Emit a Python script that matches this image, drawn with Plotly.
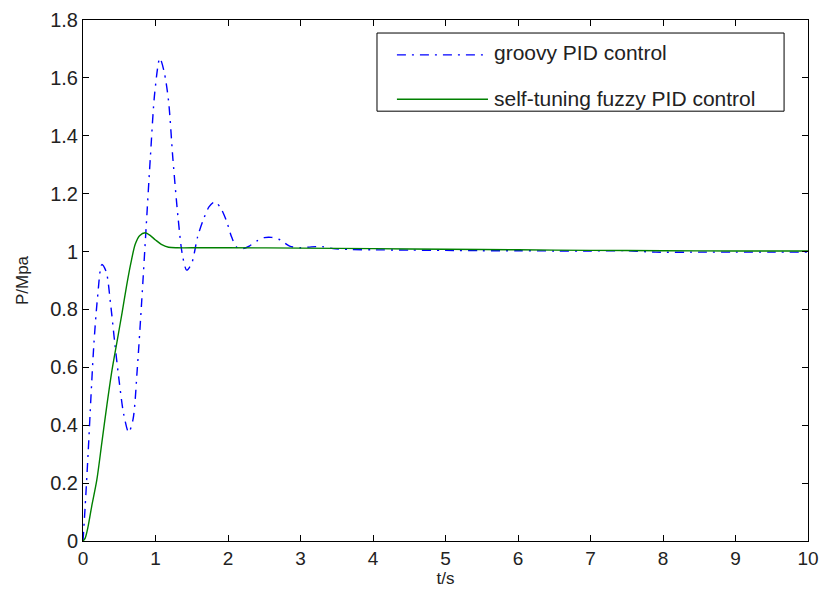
import plotly.graph_objects as go

# ---- data ----
t_groovy = [0, 0.03, 0.07, 0.11, 0.15, 0.2, 0.26, 0.32, 0.38, 0.44, 0.5, 0.56, 0.63, 0.69, 0.75,
            0.81, 0.87, 0.93, 0.99, 1.06, 1.12, 1.18, 1.24, 1.31, 1.37, 1.43, 1.5, 1.58, 1.66,
            1.74, 1.82, 1.9, 1.98, 2.05, 2.12, 2.2, 2.3, 2.4, 2.5, 2.6, 2.72, 2.85, 3.0, 3.15,
            3.3, 3.45, 3.7, 4.0, 4.5, 5.0, 5.5, 6.0, 6.5, 7.0, 7.5, 7.9, 8.5, 9.0, 9.5, 10.0]
p_groovy = [0, 0.12, 0.3, 0.5, 0.68, 0.84, 0.955, 0.93, 0.82, 0.68, 0.55, 0.44, 0.375, 0.42, 0.6,
            0.83, 1.08, 1.33, 1.55, 1.668, 1.62, 1.52, 1.32, 1.12, 0.99, 0.936, 0.96, 1.05, 1.11,
            1.155, 1.172, 1.15, 1.105, 1.05, 1.015, 1.01, 1.02, 1.037, 1.048, 1.049, 1.04, 1.019,
            1.013, 1.016, 1.017, 1.01, 1.007, 1.006, 1.005, 1.004, 1.003, 1.003, 1.002, 1.002,
            1.003, 0.998, 0.998, 0.998, 0.998, 0.998]

t_fuzzy = [0, 0.03, 0.07, 0.12, 0.19, 0.26, 0.33, 0.4, 0.47, 0.54, 0.6, 0.66, 0.72, 0.78, 0.86,
           0.93, 1.0, 1.08, 1.18, 1.3, 1.6, 2.0, 3.0, 4.0, 5.0, 6.0, 7.0, 8.0, 9.0, 10.0]
p_fuzzy = [0, 0.01, 0.05, 0.12, 0.21, 0.34, 0.47, 0.59, 0.69, 0.79, 0.88, 0.96, 1.025, 1.055, 1.065,
           1.055, 1.04, 1.025, 1.015, 1.013, 1.013, 1.013, 1.012, 1.010, 1.008, 1.006, 1.004,
           1.003, 1.002, 1.002]

series_names = ["groovy PID control", "self-tuning fuzzy PID control"]
x_ticks = [0, 1, 2, 3, 4, 5, 6, 7, 8, 9, 10]
y_ticks = [0, 0.2, 0.4, 0.6, 0.8, 1, 1.2, 1.4, 1.6, 1.8]
y_tick_text = ["0", "0.2", "0.4", "0.6", "0.8", "1", "1.2", "1.4", "1.6", "1.8"]

BLUE = "#0000FF"
GREEN = "#008000"
FONT = "Liberation Sans, Arial, sans-serif"
DASHDOT = "9px,6px,2px,6px"

fig = go.Figure()
fig.add_trace(go.Scatter(x=t_groovy, y=p_groovy, mode="lines", name=series_names[0],
                         line=dict(color=BLUE, width=1.4, dash=DASHDOT, shape="spline", smoothing=0.8),
                         showlegend=False))
fig.add_trace(go.Scatter(x=t_fuzzy, y=p_fuzzy, mode="lines", name=series_names[1],
                         line=dict(color=GREEN, width=1.4, shape="spline", smoothing=0.8),
                         showlegend=False))

axis_common = dict(showline=True, linecolor="black", linewidth=1, mirror="ticks",
                   ticks="inside", ticklen=6, tickcolor="black", tickwidth=1,
                   showgrid=False, zeroline=False, automargin=False,
                   ticklabeloverflow="allow")

fig.update_xaxes(range=[0, 10], tickvals=x_ticks, **axis_common,
                 tickfont=dict(family=FONT, size=19, color="#222222"),
                 title=dict(text="t/s", font=dict(family=FONT, size=17, color="#222222"), standoff=4))
fig.update_yaxes(range=[0, 1.8], tickvals=y_ticks, ticktext=y_tick_text, **axis_common,
                 tickfont=dict(family=FONT, size=20, color="#222222"),
                 title=dict(text="P/Mpa", font=dict(family=FONT, size=17, color="#222222"), standoff=17))

# manual legend box (MATLAB style)
fig.add_shape(type="rect", xref="paper", yref="paper", x0=0.4055, x1=0.967, y0=0.825, y1=0.975,
              line=dict(color="black", width=1), fillcolor="white", layer="above")
fig.add_shape(type="line", xref="paper", yref="paper", x0=0.433, x1=0.5586, y0=0.933, y1=0.933,
              line=dict(color=BLUE, width=1.4, dash=DASHDOT), layer="above")
fig.add_shape(type="line", xref="paper", yref="paper", x0=0.433, x1=0.5586, y0=0.848, y1=0.848,
              line=dict(color=GREEN, width=1.4), layer="above")
fig.add_annotation(xref="paper", yref="paper", x=0.564, y=0.937, text=series_names[0],
                   showarrow=False, xanchor="left", yanchor="middle",
                   font=dict(family=FONT, size=21, color="#222222"))
fig.add_annotation(xref="paper", yref="paper", x=0.564, y=0.85, text=series_names[1],
                   showarrow=False, xanchor="left", yanchor="middle",
                   font=dict(family=FONT, size=21, color="#222222"))

fig.update_layout(width=819, height=594, autosize=False,
                  margin=dict(l=83, r=11, t=20, b=53),
                  paper_bgcolor="white", plot_bgcolor="white",
                  showlegend=False)

# remove the default 8px page margin so the figure fills the window exactly
fig.write_html("out.html",
               config={"displayModeBar": False},
               post_script="document.body.style.margin='0px';document.body.style.overflow='hidden';")
